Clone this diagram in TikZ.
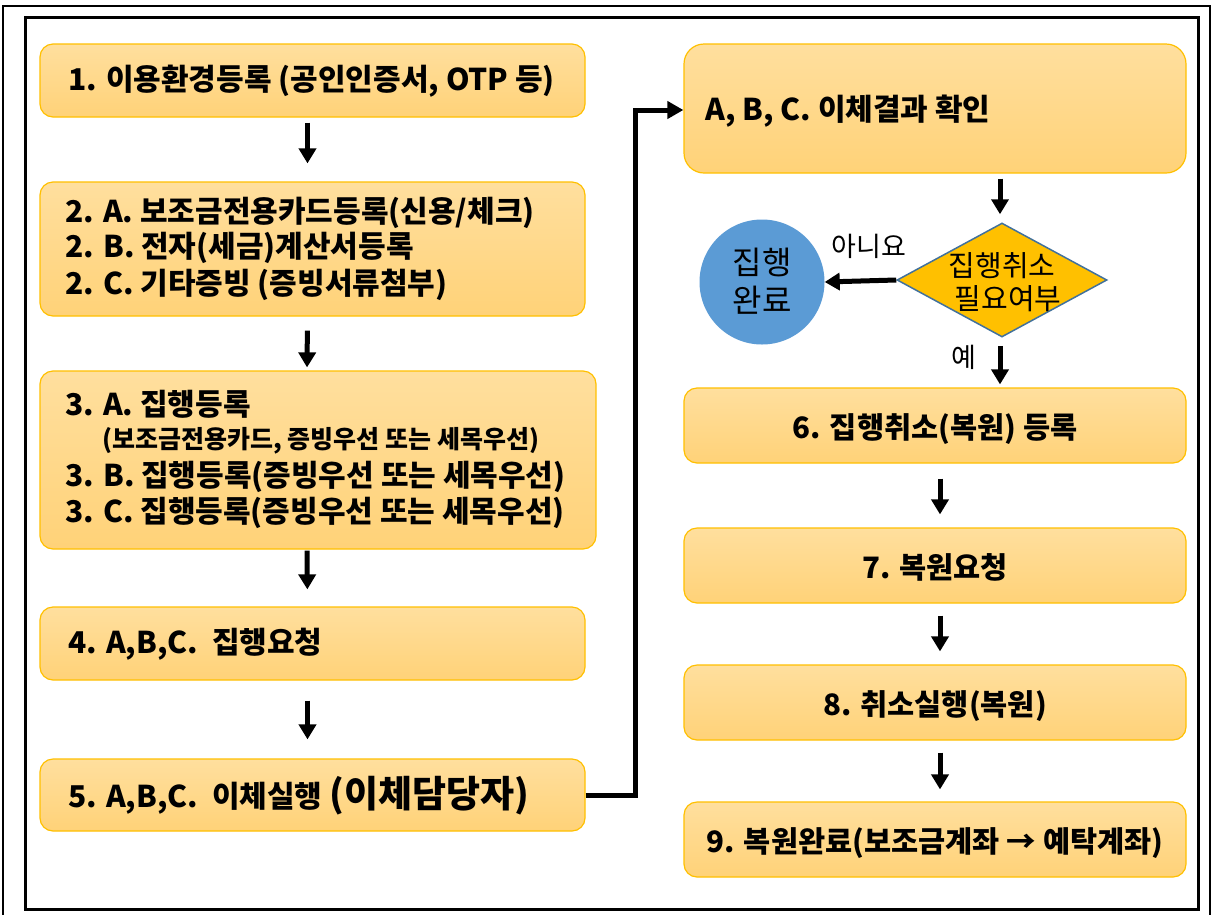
\documentclass[tikz,border=0pt]{standalone}
\usepackage{fontspec}
\setmainfont{Noto Sans CJK KR}
\usetikzlibrary{arrows.meta,shapes.geometric}
\definecolor{boxtop}{HTML}{FFDF9E}
\definecolor{boxbot}{HTML}{FFD278}
\definecolor{boxline}{HTML}{FFC000}
\definecolor{circfill}{HTML}{5B9BD5}
\definecolor{diafill}{HTML}{FFC000}
\definecolor{dialine}{HTML}{41719C}
\begin{document}
\begin{tikzpicture}[x=1pt,y=-1pt,
  flowbox/.style={draw=boxline, line width=1.2pt, rounded corners=13pt, top color=boxtop, bottom color=boxbot, inner sep=0pt, minimum width=545pt, minimum height=73pt},
  rbox/.style={flowbox, minimum width=502pt, minimum height=75pt, font=\fontsize{29.5}{29.5}\selectfont\bfseries, text height=26pt, text depth=0pt},
  btxt/.style={font=\fontsize{30}{30}\selectfont\bfseries, inner sep=0pt, text height=20.5pt, text depth=0pt, anchor=west},
  stxt/.style={font=\fontsize{25}{25}\selectfont\bfseries, inner sep=0pt, text height=17.5pt, text depth=0pt, anchor=west},
  ltxt/.style={font=\fontsize{27}{27}\selectfont, inner sep=0pt, text height=18.5pt, text depth=0pt},
  dtxt/.style={font=\fontsize{29}{29}\selectfont, inner sep=0pt, text height=20pt, text depth=0pt},
  ctxt/.style={font=\fontsize{32}{32}\selectfont, inner sep=0pt, text height=22pt, text depth=0pt},
  arr/.style={line width=5pt, -{Triangle[length=15pt,width=17pt]}},
]
\fill[white] (0,0) rectangle (1219,914);
\useasboundingbox (0,0) rectangle (1219,914);
% frames
\draw[line width=2.5pt] (3,6) rectangle (1210,930);
\draw[line width=3pt] (25,17) rectangle (1198,909);

% left column boxes
\node[flowbox] (b1) at (312.5,80.5) {};
\node[btxt] (t1) at (68,80.5) {1. 이용환경등록 (공인인증서, OTP 등)};

\node[flowbox, minimum height=134pt] (b2) at (312.5,249) {};
\node[btxt] (t2a) at (65,212) {2. A. 보조금전용카드등록(신용/체크)};
\node[btxt] (t2b) at (65,247) {2. B. 전자(세금)계산서등록};
\node[btxt] (t2c) at (65,284) {2. C. 기타증빙 (증빙서류첨부)};

\node[flowbox, minimum width=556pt, minimum height=178pt] (b3) at (318,460) {};
\node[btxt] (t3a) at (65,405) {3. A. 집행등록};
\node[stxt] (t3s) at (102,440) {(보조금전용카드, 증빙우선 또는 세목우선)};
\node[btxt] (t3b) at (65,476) {3. B. 집행등록(증빙우선 또는 세목우선)};
\node[btxt] (t3c) at (65,512) {3. C. 집행등록(증빙우선 또는 세목우선)};

\node[flowbox] (b4) at (312.5,643.5) {};
\node[btxt] (t4) at (68,643.5) {4. A,B,C.\ \ 집행요청};

\node[flowbox, minimum height=72pt] (b5) at (312.5,795) {};
\node[btxt] (t5) at (68,797) {5. A,B,C.\ \ 이체실행 {\fontsize{37}{37}\selectfont\bfseries(이체담당자)}};

% right column
\node[flowbox, minimum width=502pt, minimum height=129pt, rounded corners=20pt] (bA) at (935,108.5) {};
\node[btxt] (tA) at (705,110) {A, B, C. 이체결과 확인};

\node[diamond, draw=dialine, line width=1.5pt, fill=diafill, minimum width=210pt, minimum height=114pt, inner sep=0pt] (dia) at (1002,280) {};
\node[dtxt] (td1) at (1002,266) {집행취소};
\node[dtxt] (td2) at (1008,299) {필요여부};

\node[circle, fill=circfill, minimum size=125pt, inner sep=0pt] (done) at (762,282) {};
\node[ctxt] (tc1) at (762,263) {집행};
\node[ctxt] (tc2) at (762,301) {완료};

\node[ltxt] (no) at (869,247) {아니요};
\node[ltxt] (yes) at (964,358) {예};

\node[rbox] (b6) at (935,425.5) {6. 집행취소(복원) 등록};
\node[rbox] (b7) at (935,565.5) {7. 복원요청};
\node[rbox] (b8) at (935,702.5) {8. 취소실행(복원)};
\node[rbox] (b9) at (935,839.5) {9. 복원완료(보조금계좌 → 예탁계좌)};

% arrows left
\draw[arr, shorten <=5pt, shorten >=18pt] ([xshift=-5pt]b1.south) -- ([xshift=-5pt]b2.north);
\draw[arr, shorten <=14pt, shorten >=3pt] ([xshift=-5pt]b2.south) -- ([xshift=-11pt]b3.north);
\draw[arr, shorten <=1pt, shorten >=17pt] ([xshift=-11pt]b3.south) -- ([xshift=-5pt]b4.north);
\draw[arr, shorten <=20pt, shorten >=19pt] ([xshift=-5pt]b4.south) -- ([xshift=-5pt]b5.north);

% arrows right
\draw[arr, shorten <=5pt, shorten >=8pt] ([xshift=-2pt]dia.north |- bA.south) -- ([xshift=-2pt]dia.north);
\draw[arr, shorten <=8pt, shorten >=3pt] ([xshift=-2pt]dia.south) -- ([xshift=-2pt]dia.south |- b6.north);
\draw[arr, shorten <=15pt, shorten >=13pt] ([xshift=5pt]b6.south) -- ([xshift=5pt]b7.north);
\draw[arr, shorten <=12pt, shorten >=13pt] ([xshift=5pt]b7.south) -- ([xshift=5pt]b8.north);
\draw[arr, shorten <=12pt, shorten >=12pt] ([xshift=5pt]b8.south) -- ([xshift=5pt]b9.north);
\draw[arr] (dia.west) -- (done.east);

% connector 5 -> A
\coordinate (turn) at (635,795);
\draw[line width=5pt, -{Triangle[length=16pt,width=17pt]}] (b5.east) -- (turn) |- ([yshift=-1.5pt]bA.west);
\end{tikzpicture}
\end{document}
